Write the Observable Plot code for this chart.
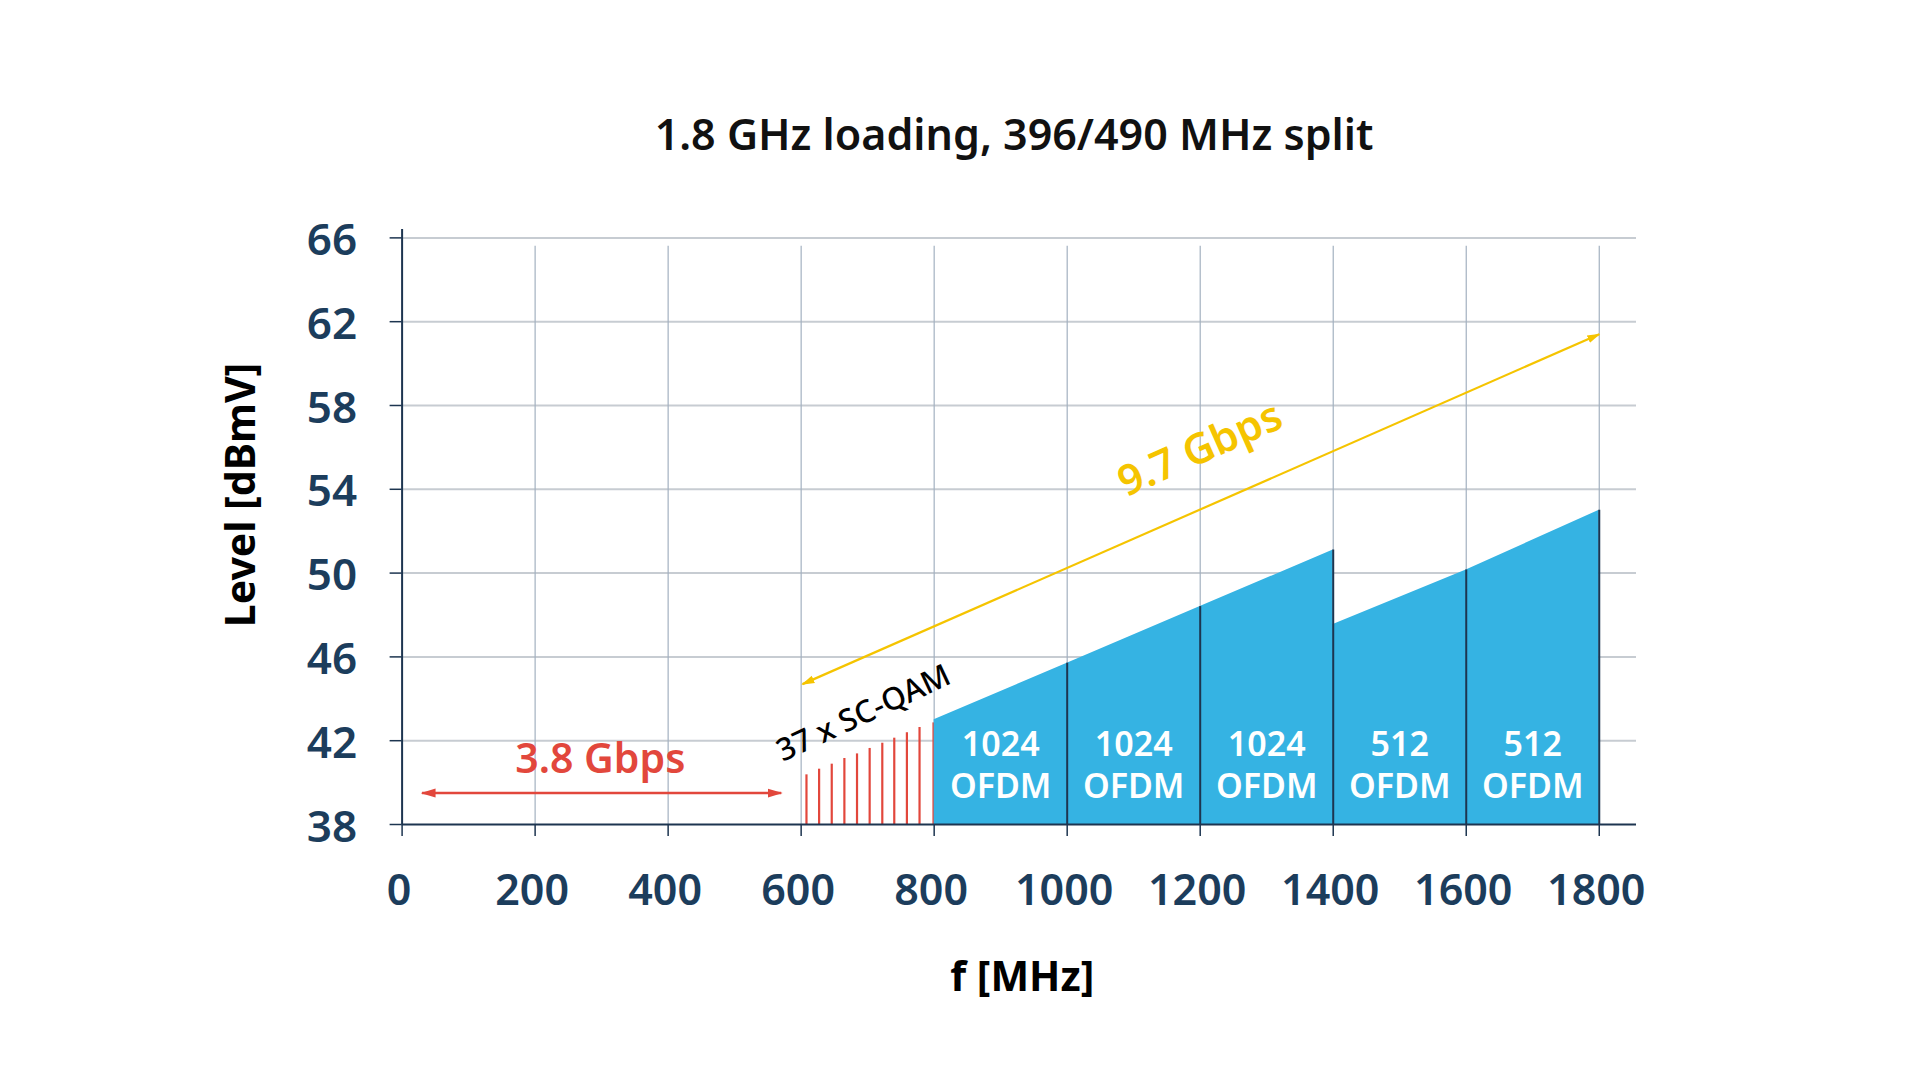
<!DOCTYPE html>
<html>
<head>
<meta charset="utf-8">
<script src="https://cdn.jsdelivr.net/npm/d3@7"></script>
<script src="https://cdn.jsdelivr.net/npm/@observablehq/plot@0.6"></script>
<style>
  html, body { margin: 0; padding: 0; background: #ffffff; }
  body { width: 1920px; height: 1080px; position: relative; overflow: hidden; font-family: "Noto Sans", sans-serif; }
  #title { position: absolute; top: 112px; left: 108px; right: 0; text-align: center;
           font-size: 43px; line-height: 43px; font-weight: 600; color: #111111; }
  #chart { position: absolute; top: 190px; left: 0; }
</style>
</head>
<body>
<div id="title">1.8 GHz loading, 396/490 MHz split</div>
<div id="chart"></div>
<script>
// ---- data ----
const xTicks = [0, 200, 400, 600, 800, 1000, 1200, 1400, 1600, 1800];
const yTicks = [38, 42, 46, 50, 54, 58, 62, 66];

// 37 x SC-QAM carriers (frequency MHz, level dBmV)
const qamFreq  = [608, 627, 646, 665, 684, 703, 722, 740, 759, 778, 799];
const qamLevel = [40.37, 40.64, 40.88, 41.15, 41.37, 41.63, 41.88, 42.12, 42.38, 42.63, 42.85];

// OFDM tilt outline (frequency MHz, level dBmV)
const ofdmFreq  = [800, 1000, 1200, 1400, 1400, 1600, 1800];
const ofdmLevel = [43.0, 45.7, 48.4, 51.1, 47.55, 50.15, 53.0];

// OFDM block edges and labels
const blockEdges   = [1000, 1200, 1400, 1600, 1800];
const blockCenters = [900, 1100, 1300, 1500, 1700];
const blockLabels  = ["1024\nOFDM", "1024\nOFDM", "1024\nOFDM", "512\nOFDM", "512\nOFDM"];
const blockLabelLevel = 40.92;

// capacity arrows
const rateLabels    = ["3.8 Gbps", "9.7 Gbps"];
const rateFromFreq  = [30, 602];
const rateFromLevel = [39.5, 44.7];
const rateToFreq    = [570, 1800];
const rateToLevel   = [39.5, 61.4];
const rateLabelFreq = [298, 1200];
const rateLabelLevel = [41.1, 55.9];

const qamLabel = "37 x SC-QAM";
const qamLabelFreq = 694;
const qamLabelLevel = 43.3;

// ---- tables ----
const qam = qamFreq.map((f, i) => ({f, level: qamLevel[i]}));
const ofdm = ofdmFreq.map((f, i) => ({f, level: ofdmLevel[i]}));
const edges = blockEdges.map(f => ({f, top: d3.max(ofdm.filter(d => d.f === f), d => d.level)}));
const blocks = blockCenters.map((f, i) => ({f, label: blockLabels[i], level: blockLabelLevel}));
const rates = rateLabels.map((label, i) => ({label, x1: rateFromFreq[i], y1: rateFromLevel[i], x2: rateToFreq[i], y2: rateToLevel[i], lx: rateLabelFreq[i], ly: rateLabelLevel[i]}));

// ---- styles ----
const NAVY = "#1c3d5c";
const AXIS = "#1d3550";
const BLUE = "#35b3e3";
const RED = "#e2473c";
const YELLOW = "#f5c400";
const HGRID = "#c7ccd2";
const VGRID = "#a3b1c0";

function triMarker(orient) {
  return (color) => {
    const ns = "http://www.w3.org/2000/svg";
    const m = document.createElementNS(ns, "marker");
    m.setAttribute("viewBox", "-5 -5 10 10");
    m.setAttribute("markerWidth", 6);
    m.setAttribute("markerHeight", 6);
    m.setAttribute("refX", 4);
    m.setAttribute("refY", 0);
    m.setAttribute("orient", orient);
    m.setAttribute("fill", color);
    m.setAttribute("stroke", "none");
    const p = document.createElementNS(ns, "path");
    p.setAttribute("d", "M-5,-3L5,0L-5,3Z");
    m.appendChild(p);
    return m;
  };
}

const fmt = d => String(d);

const chart = Plot.plot({
  width: 1920,
  height: 890,
  marginLeft: 401.6,
  marginRight: 284,
  marginTop: 39,
  marginBottom: 256,
  x: {domain: [0, 1856]},
  y: {domain: [38, 66.4]},
  style: {fontFamily: "Noto Sans, sans-serif", overflow: "visible", background: "transparent"},
  marks: [
    // grid
    Plot.ruleY(yTicks.slice(1), {stroke: HGRID, strokeWidth: 2}),
    Plot.ruleX(xTicks.slice(1), {y1: 38, y2: 65.6, stroke: VGRID, strokeWidth: 1.2}),
    // SC-QAM carriers
    Plot.ruleX(qam, {x: "f", y1: 38, y2: "level", stroke: RED, strokeWidth: 2.2}),
    // OFDM area
    Plot.areaY(ofdm, {x: "f", y1: 38, y2: "level", fill: BLUE}),
    Plot.ruleX(edges, {x: "f", y1: 38, y2: "top", stroke: AXIS, strokeWidth: 2}),
    // axes: tick marks
    Plot.axisY(yTicks, {tickSize: 12, stroke: AXIS, strokeWidth: 1.5, fill: "none", label: null, tickFormat: fmt}),
    Plot.axisX(xTicks, {tickSize: 12, stroke: AXIS, strokeWidth: 1.5, fill: "none", label: null, tickFormat: fmt}),
    // axes: tick labels
    Plot.axisY(yTicks, {tickSize: 0, tickPadding: 45, dy: 3, fontSize: 44, fontWeight: 600, fill: NAVY, label: null, tickFormat: fmt}),
    Plot.axisX(xTicks, {tickSize: 0, tickPadding: 50, dx: -3, fontSize: 43, fontWeight: 600, fill: NAVY, label: null, tickFormat: fmt}),
    Plot.ruleX([0], {stroke: AXIS, strokeWidth: 2}),
    Plot.ruleY([38], {stroke: AXIS, strokeWidth: 2.2}),
    // axis titles
    Plot.text(["Level [dBmV]"], {frameAnchor: "left", textAnchor: "middle", lineAnchor: "middle", rotate: -90, dx: -160, dy: -32, fontSize: 41, fontWeight: 700, fill: "#000"}),
    Plot.text(["f [MHz]"], {frameAnchor: "bottom", textAnchor: "middle", lineAnchor: "middle", dx: 3, dy: 153, fontSize: 41, fontWeight: 700, fill: "#000"}),
    // OFDM labels
    Plot.text(blocks, {x: "f", y: "level", text: "label", fill: "#ffffff", fontSize: 34, fontWeight: 600, lineHeight: 1.23}),
    // capacity arrows
    Plot.link([rates[0]], {x1: "x1", y1: "y1", x2: "x2", y2: "y2", stroke: RED, strokeWidth: 2.5, markerStart: triMarker("auto-start-reverse"), markerEnd: triMarker("auto")}),
    Plot.link([rates[1]], {x1: "x1", y1: "y1", x2: "x2", y2: "y2", stroke: YELLOW, strokeWidth: 2.2, markerStart: triMarker("auto-start-reverse"), markerEnd: triMarker("auto")}),
    Plot.text([rates[0]], {x: "lx", y: "ly", text: "label", fill: RED, fontSize: 41, fontWeight: 600}),
    Plot.text([rates[1]], {x: "lx", y: "ly", text: "label", fill: YELLOW, fontSize: 42, fontWeight: 600, rotate: -24}),
    Plot.text([qamLabel], {x: qamLabelFreq, y: qamLabelLevel, text: d => d, fill: "#000", fontSize: 31, fontWeight: 500, rotate: -25})
  ]
});
document.getElementById("chart").appendChild(chart);
</script>
</body>
</html>
